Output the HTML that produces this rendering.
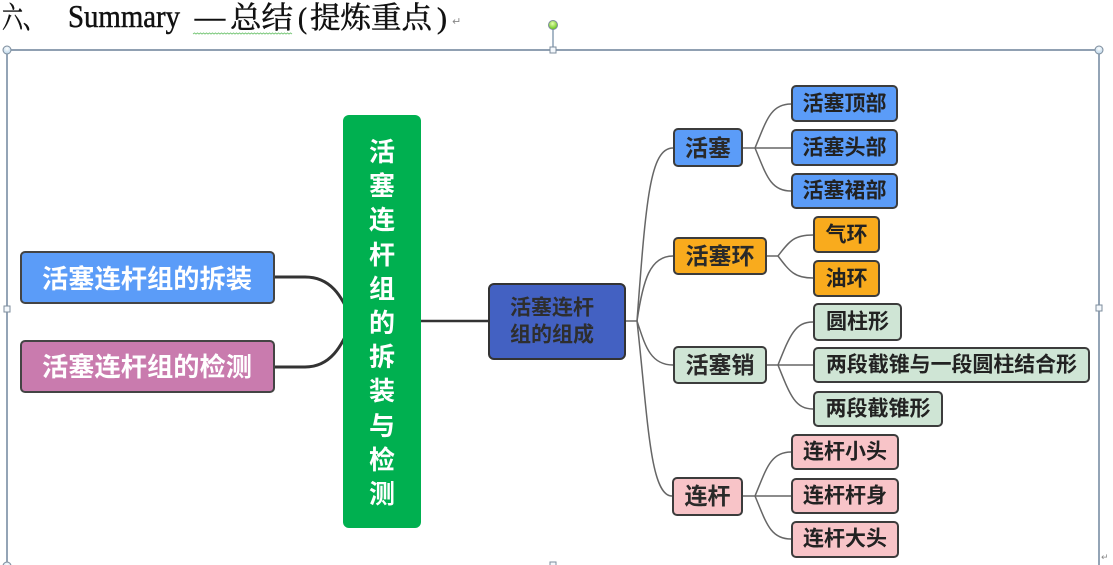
<!DOCTYPE html>
<html>
<head>
<meta charset="utf-8">
<style>
html,body{margin:0;padding:0;background:#fff;}
body{width:1113px;height:565px;overflow:hidden;}
svg{display:block;}
.n{font-family:"Liberation Sans","Noto Sans CJK SC",sans-serif;font-weight:bold;}
</style>
</head>
<body>
<svg width="1113" height="565" viewBox="0 0 1113 565" xmlns="http://www.w3.org/2000/svg">
<defs>
<radialGradient id="hb" cx="50%" cy="35%" r="60%">
<stop offset="0" stop-color="#ffffff"/><stop offset="1" stop-color="#bcd6ea"/>
</radialGradient>
<radialGradient id="hg" cx="45%" cy="35%" r="60%">
<stop offset="0" stop-color="#e6ffb0"/><stop offset="1" stop-color="#6cc61e"/>
</radialGradient>
</defs>

<!-- Title -->
<g font-family="'Liberation Serif','Noto Serif CJK SC',serif" fill="#111" stroke="#111" stroke-width="0.5">
<text x="2" y="28" font-size="30" textLength="42" lengthAdjust="spacingAndGlyphs" font-family="'Noto Serif CJK SC',serif">六、</text>
<text x="68" y="27" font-size="32" textLength="112" lengthAdjust="spacingAndGlyphs">Summary</text>
<text x="193" y="28" font-size="30" textLength="34" lengthAdjust="spacingAndGlyphs" font-family="'Noto Serif CJK SC',serif">—</text>
<text x="230" y="28" font-size="30" textLength="63" lengthAdjust="spacingAndGlyphs" font-family="'Noto Serif CJK SC',serif">总结</text>
<text x="298" y="28" font-size="30" textLength="9" lengthAdjust="spacingAndGlyphs">(</text>
<text x="310" y="28" font-size="30" textLength="122" lengthAdjust="spacingAndGlyphs" font-family="'Noto Serif CJK SC',serif">提炼重点</text>
<text x="437" y="28" font-size="30" textLength="10" lengthAdjust="spacingAndGlyphs">)</text>
</g>
<text x="452" y="25" font-size="11" fill="#888" font-family="'DejaVu Sans',sans-serif">↵</text>
<polyline fill="none" stroke="#79c779" stroke-width="1" points="193,34 194.5,33 196,34 197.5,33 199,34 200.5,33 202,34 203.5,33 205,34 206.5,33 208,34 209.5,33 211,34 212.5,33 214,34 215.5,33 217,34 218.5,33 220,34 221.5,33 223,34 224.5,33 226,34 227.5,33 229,34 230.5,33 232,34 233.5,33 235,34 236.5,33 238,34 239.5,33 241,34 242.5,33 244,34 245.5,33 247,34 248.5,33 250,34 251.5,33 253,34 254.5,33 256,34 257.5,33 259,34 260.5,33 262,34 263.5,33 265,34 266.5,33 268,34 269.5,33 271,34 272.5,33 274,34 275.5,33 277,34 278.5,33 280,34 281.5,33 283,34 284.5,33 286,34 287.5,33 289,34 290.5,33 292,34"/>

<!-- Frame -->
<g stroke="#4e6885" stroke-width="1.2" fill="none">
<line x1="7" y1="50" x2="1099" y2="50"/>
<line x1="7" y1="50" x2="7" y2="565"/>
<line x1="1099" y1="50" x2="1099" y2="565"/>
<line x1="553" y1="29" x2="553" y2="47" stroke="#8aa0b4" stroke-width="1.5"/>
</g>
<g stroke="#7d8c9c" stroke-width="1">
<circle cx="7" cy="50" r="4" fill="url(#hb)"/>
<circle cx="1099" cy="50" r="4" fill="url(#hb)"/>
<circle cx="7" cy="566" r="4" fill="url(#hb)"/>
<circle cx="553" cy="25" r="4.5" fill="url(#hg)"/>
<rect x="550" y="47" width="6" height="6" fill="#f4f8fc"/>
<rect x="4" y="306" width="6" height="6" fill="#f4f8fc"/>
<rect x="1096" y="305" width="6" height="6" fill="#f4f8fc"/>
<rect x="550" y="562" width="6" height="6" fill="#f4f8fc"/>
</g>
<text x="1101" y="560" font-size="9" fill="#888" font-family="'DejaVu Sans',sans-serif">↵</text>

<!-- Connectors -->
<g fill="none" stroke="#333" stroke-width="3">
<path d="M275,277 H305 C330,277 342,295 352,321"/>
<path d="M275,367 H305 C330,367 342,347 352,321"/>
<path d="M421,321 H488" stroke-width="2.5"/>
</g>
<g fill="none" stroke="#666" stroke-width="1.5">
<path d="M626,321 H637"/>
<path d="M637,321 C646,200 650,148 673,148"/>
<path d="M637,321 C643,280 650,256 673,256"/>
<path d="M637,321 C645,345 650,365 673,365"/>
<path d="M637,321 C648,420 650,496 672,496"/>

<path d="M743,148 H791"/>
<path d="M755,148 C766,122 770,104 791,104"/>
<path d="M755,148 C766,174 770,191 791,191"/>

<path d="M767,256 H778 C790,240 795,235 813,235"/>
<path d="M778,256 C790,272 795,278 813,278"/>

<path d="M767,365 H813"/>
<path d="M778,365 C790,335 795,322 813,322"/>
<path d="M778,365 C790,395 795,409 813,409"/>

<path d="M743,496 H791"/>
<path d="M755,496 C766,470 770,452 791,452"/>
<path d="M755,496 C766,522 770,539 791,539"/>
</g>

<!-- Central green -->
<rect x="343" y="115" width="78" height="413" rx="6" fill="#00b050"/>
<g class="n" fill="#fff" font-size="26" text-anchor="middle" dominant-baseline="central">
<text x="382" y="152">活</text>
<text x="382" y="186">塞</text>
<text x="382" y="220">连</text>
<text x="382" y="255">杆</text>
<text x="382" y="289">组</text>
<text x="382" y="323">的</text>
<text x="382" y="357">拆</text>
<text x="382" y="391">装</text>
<text x="382" y="426">与</text>
<text x="382" y="460">检</text>
<text x="382" y="494">测</text>
</g>

<!-- Left nodes -->
<g stroke="#444" stroke-width="2">
<rect x="21" y="252" width="253" height="51" rx="4" fill="#5b9cf8"/>
<rect x="21" y="341" width="253" height="51" rx="4" fill="#c97bae"/>
</g>
<g class="n" fill="#fff" font-size="26" text-anchor="middle" dominant-baseline="central">
<text x="147" y="279" textLength="210" lengthAdjust="spacingAndGlyphs">活塞连杆组的拆装</text>
<text x="147" y="367" textLength="210" lengthAdjust="spacingAndGlyphs">活塞连杆组的检测</text>
</g>

<!-- Center blue node -->
<rect x="489" y="284" width="136" height="75" rx="5" fill="#4361c2" stroke="#333" stroke-width="2"/>
<g class="n" fill="#2e2e2e" font-size="21" text-anchor="middle" dominant-baseline="central">
<text x="552" y="308">活塞连杆</text>
<text x="552" y="335">组的组成</text>
</g>

<!-- Level 2 nodes -->
<g stroke="#3c3c3c" stroke-width="2">
<rect x="674" y="129" width="68" height="37" rx="4" fill="#5b9cf8"/>
<rect x="674" y="238" width="92" height="36" rx="4" fill="#f9ab1d"/>
<rect x="674" y="347" width="92" height="36" rx="4" fill="#cfe5d5"/>
<rect x="673" y="478" width="69" height="37" rx="4" fill="#f8c4c8"/>
</g>
<g class="n" fill="#2a2a2a" font-size="23" text-anchor="middle" dominant-baseline="central">
<text x="708" y="148">活塞</text>
<text x="720" y="256">活塞环</text>
<text x="720" y="365">活塞销</text>
<text x="707.5" y="496">连杆</text>
</g>

<!-- Level 3 nodes -->
<g stroke="#3c3c3c" stroke-width="2">
<rect x="792" y="86" width="105" height="35" rx="4" fill="#5b9cf8"/>
<rect x="792" y="130" width="105" height="35" rx="4" fill="#5b9cf8"/>
<rect x="792" y="174" width="105" height="34" rx="4" fill="#5b9cf8"/>
<rect x="814" y="217" width="65" height="35" rx="4" fill="#f9ab1d"/>
<rect x="814" y="261" width="65" height="35" rx="4" fill="#f9ab1d"/>
<rect x="814" y="304" width="87" height="36" rx="4" fill="#cfe5d5"/>
<rect x="814" y="348" width="275" height="34" rx="4" fill="#cfe5d5"/>
<rect x="814" y="392" width="128" height="34" rx="4" fill="#cfe5d5"/>
<rect x="792" y="435" width="106" height="34" rx="4" fill="#f8c4c8"/>
<rect x="792" y="479" width="106" height="34" rx="4" fill="#f8c4c8"/>
<rect x="792" y="522" width="106" height="35" rx="4" fill="#f8c4c8"/>
</g>
<g class="n" fill="#222" font-size="21" text-anchor="middle" dominant-baseline="central">
<text x="844.5" y="104">活塞顶部</text>
<text x="844.5" y="148">活塞头部</text>
<text x="844.5" y="191">活塞裙部</text>
<text x="846.5" y="235">气环</text>
<text x="846.5" y="279">油环</text>
<text x="857.5" y="322">圆柱形</text>
<text x="951.5" y="365" textLength="251" lengthAdjust="spacingAndGlyphs">两段截锥与一段圆柱结合形</text>
<text x="878" y="409">两段截锥形</text>
<text x="845" y="452">连杆小头</text>
<text x="845" y="496">连杆杆身</text>
<text x="845" y="539">连杆大头</text>
</g>
</svg>
</body>
</html>
